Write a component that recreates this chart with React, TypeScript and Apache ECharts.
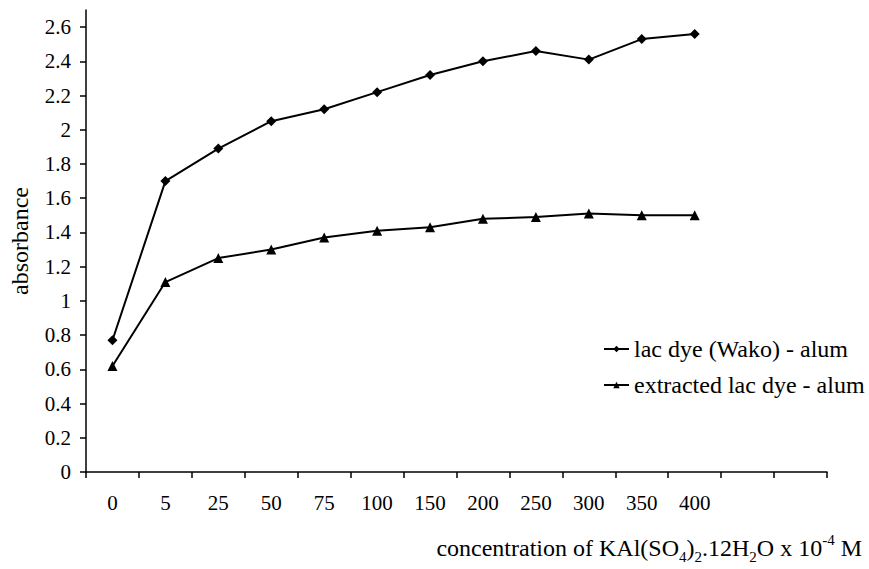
import React, { useEffect, useRef } from "react";
import * as echarts from "echarts";

const categories = ["0", "5", "25", "50", "75", "100", "150", "200", "250", "300", "350", "400", "", ""];
const wakoValues = [0.77, 1.70, 1.89, 2.05, 2.12, 2.22, 2.32, 2.40, 2.46, 2.41, 2.53, 2.56];
const extractedValues = [0.62, 1.11, 1.25, 1.30, 1.37, 1.41, 1.43, 1.48, 1.49, 1.51, 1.50, 1.50];
const yTicks = [0, 0.2, 0.4, 0.6, 0.8, 1, 1.2, 1.4, 1.6, 1.8, 2, 2.2, 2.4, 2.6];

const FONT = "Liberation Serif";

export default function App() {
  const ref = useRef<HTMLDivElement>(null);
  useEffect(() => {
    if (!ref.current) return;
    const chart = echarts.init(ref.current, null, { renderer: "svg" });
    chart.setOption({
      animation: false,
      backgroundColor: "#ffffff",
      textStyle: { fontFamily: FONT },
      grid: { left: 83, right: 42, top: 10, bottom: 97, containLabel: false },
      xAxis: {
        type: "category",
        data: categories,
        boundaryGap: true,
        axisLine: { lineStyle: { color: "#000", width: 1.5 } },
        axisTick: { show: true, inside: false, length: 6, lineStyle: { color: "#000", width: 1.5 } },
        axisLabel: { color: "#000", fontFamily: FONT, fontSize: 21, margin: 20, interval: 0 },
        splitLine: { show: false },
      },
      yAxis: {
        type: "value",
        min: 0,
        max: 2.7,
        name: "absorbance",
        nameLocation: "middle",
        nameGap: 54,
        nameTextStyle: { color: "#000", fontFamily: FONT, fontSize: 24 },
        axisLine: { show: true, lineStyle: { color: "#000", width: 1.5 } },
        axisTick: { show: true, length: 6, customValues: yTicks, lineStyle: { color: "#000", width: 1.5 } },
        axisLabel: { color: "#000", fontFamily: FONT, fontSize: 21, margin: 15, customValues: yTicks },
        splitLine: { show: false },
      },
      legend: {
        orient: "vertical",
        left: 598,
        top: 332,
        itemWidth: 25,
        itemHeight: 8,
        itemGap: 12,
        textStyle: { color: "#000", fontFamily: FONT, fontSize: 24 },
        data: ["lac dye (Wako) - alum", "extracted lac dye - alum"],
      },
      series: [
        {
          name: "lac dye (Wako) - alum",
          type: "line",
          data: wakoValues,
          symbol: "diamond",
          symbolSize: 10,
          itemStyle: { color: "#000" },
          lineStyle: { color: "#000", width: 2 },
        },
        {
          name: "extracted lac dye - alum",
          type: "line",
          data: extractedValues,
          symbol: "triangle",
          symbolSize: 10,
          itemStyle: { color: "#000" },
          lineStyle: { color: "#000", width: 2 },
        },
      ],
      graphic: [
        {
          type: "text",
          right: 7,
          top: 532,
          style: {
            text: "{n|concentration of KAl(SO}{s|4}{n|)}{s|2}{n|.12H}{s|2}{n|O x 10}{p|-4}{n| M}",
            fill: "#000",
            rich: {
              n: { fontFamily: FONT, fontSize: 24, lineHeight: 32, verticalAlign: "middle", fill: "#000" },
              s: { fontFamily: FONT, fontSize: 15, lineHeight: 15, verticalAlign: "bottom", fill: "#000" },
              p: { fontFamily: FONT, fontSize: 15, lineHeight: 15, verticalAlign: "top", fill: "#000" },
            },
          },
        },
      ],
    });
    return () => chart.dispose();
  }, []);
  return (
    <div
      ref={ref}
      style={{ position: "fixed", left: 0, top: 0, width: 869, height: 569, background: "#fff" }}
    />
  );
}
